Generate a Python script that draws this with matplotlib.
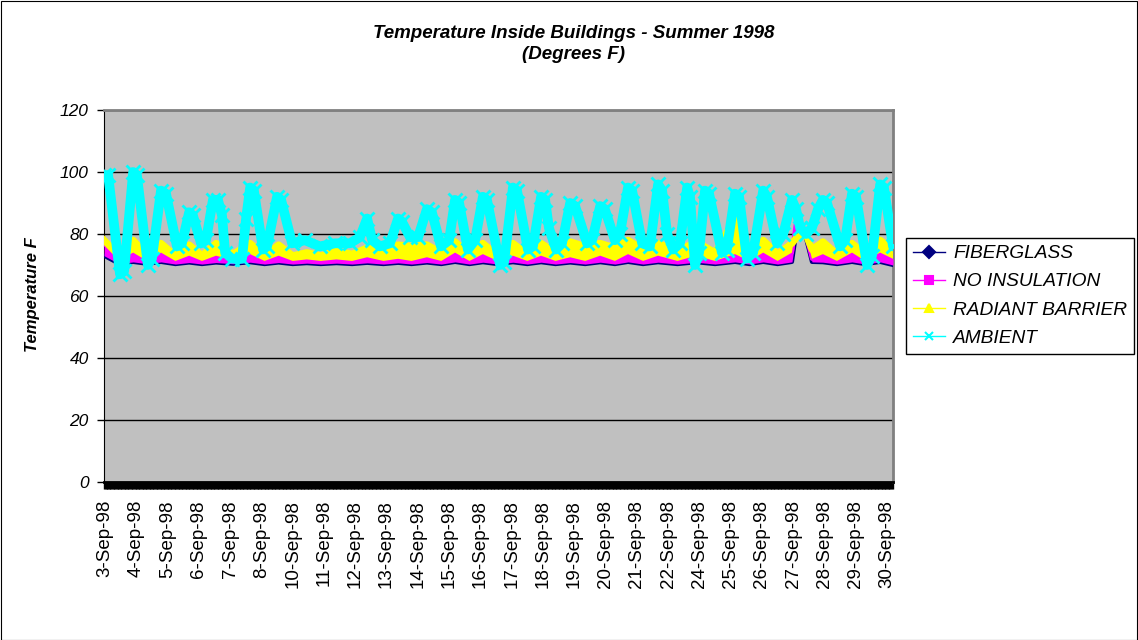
import matplotlib.pyplot as plt
from matplotlib.lines import Line2D
from matplotlib.patches import Rectangle
from matplotlib.ticker import MultipleLocator

plt.rcParams['font.family'] = ['Liberation Sans', 'DejaVu Sans']

# category labels (one every N readings)
date_labels = ['3-Sep-98', '4-Sep-98', '5-Sep-98', '6-Sep-98', '7-Sep-98', '8-Sep-98',
               '10-Sep-98', '11-Sep-98', '12-Sep-98', '13-Sep-98', '14-Sep-98', '15-Sep-98',
               '16-Sep-98', '17-Sep-98', '18-Sep-98', '19-Sep-98', '20-Sep-98', '21-Sep-98',
               '22-Sep-98', '24-Sep-98', '25-Sep-98', '26-Sep-98', '27-Sep-98', '28-Sep-98',
               '29-Sep-98', '30-Sep-98']

# ambient readings (position in label units, deg F)
amb_t = [-0.03, 0.10, 0.48, 0.61, 0.90, 1.02, 1.37, 1.50, 1.79, 1.95,
         2.30, 2.46, 2.69, 2.81, 3.07, 3.23, 3.45, 3.61, 3.74, 3.84,
         4.06, 4.38, 4.51, 4.64, 4.76, 5.05, 5.18, 5.50, 5.63, 5.98,
         6.39, 6.87, 7.35, 7.83, 8.15, 8.38, 8.54, 8.79, 9.11, 9.37,
         9.49, 9.75, 10.01, 10.29, 10.45, 10.74, 11.00, 11.19, 11.32, 11.60,
         11.83, 12.08, 12.21, 12.63, 12.76, 13.04, 13.17, 13.52, 13.68, 13.94,
         14.07, 14.19, 14.42, 14.61, 14.87, 15.03, 15.41, 15.57, 15.83, 15.98,
         16.30, 16.46, 16.72, 16.85, 17.17, 17.42, 17.68, 17.81, 17.97, 18.16,
         18.38, 18.61, 18.70, 18.86, 18.99, 19.18, 19.31, 19.72, 19.88, 20.14,
         20.27, 20.52, 20.72, 21.04, 21.16, 21.48, 21.68, 21.96, 22.09, 22.22,
         22.41, 22.60, 22.79, 22.95, 23.08, 23.50, 23.66, 23.88, 24.01, 24.36,
         24.52, 24.78, 24.90, 25.19]
amb_v = [99, 99, 67, 68, 100, 99, 70, 72, 94, 93,
         76, 77, 87, 86, 77, 78, 91, 91, 86, 74,
         72, 72, 85, 95, 94, 75, 76, 92, 91, 77,
         78, 76, 77, 77, 79, 85, 78, 76, 77, 85,
         84, 79, 79, 88, 87, 76, 78, 91, 90, 75,
         78, 92, 91, 70, 71, 95, 94, 75, 76, 92,
         91, 82, 75, 77, 90, 89, 77, 78, 89, 88,
         78, 80, 95, 94, 77, 76, 96, 94, 80, 75,
         77, 95, 92, 70, 74, 94, 93, 74, 75, 93,
         92, 72, 74, 94, 92, 77, 80, 91, 88, 82,
         80, 82, 88, 91, 90, 76, 78, 93, 92, 70,
         73, 96, 95, 76]

# indoor readings (daily highs / lows)
in_t = [-0.03, 0.45, 0.90, 1.35, 1.79, 2.25, 2.69, 3.10, 3.55, 4.10,
        4.64, 5.10, 5.55, 6.00, 6.45, 6.90, 7.40, 7.90, 8.38, 8.90,
        9.37, 9.80, 10.29, 10.75, 11.19, 11.65, 12.08, 12.55, 13.04, 13.50,
        13.94, 14.40, 14.87, 15.35, 15.83, 16.30, 16.72, 17.20, 17.68, 18.30,
        18.90, 19.50, 20.14, 20.60, 21.04, 21.50, 21.96, 22.12, 22.40, 22.60,
        22.95, 23.40, 23.88, 24.30, 24.78, 25.19]
fiberglass = [73, 70.4, 71, 70.4, 71, 70.3, 70.8, 70.3, 70.8, 70.4,
              70.9, 70.3, 70.8, 70.3, 70.6, 70.3, 70.6, 70.3, 70.7, 70.3,
              70.7, 70.3, 70.8, 70.3, 71, 70.3, 70.9, 70.3, 70.9, 70.3,
              70.9, 70.3, 70.8, 70.3, 70.9, 70.3, 71, 70.3, 70.9, 70.3,
              70.9, 70.3, 71, 70.3, 71, 70.3, 71, 82, 79, 71,
              70.9, 70.3, 71, 70.3, 71, 70]
no_insulation = [77, 71.5, 74, 71.3, 74, 71.3, 73, 71.3, 73, 71.5,
                 73.5, 71.3, 73, 71.3, 71.8, 71.3, 71.8, 71.3, 72.5, 71.3,
                 72, 71.3, 72.5, 71.3, 74, 71.3, 73.5, 71.3, 73, 71.3,
                 73, 71.3, 72.5, 71.3, 73, 71.3, 73.5, 71.3, 73, 71.3,
                 73, 71.3, 73.5, 71.3, 74, 71.3, 74, 86, 80, 72,
                 73.5, 71.3, 74, 71.3, 74, 72]
radiant_barrier = [78, 73, 78, 73, 77, 73, 76.5, 73, 77, 73.5,
                   77, 73, 76.5, 73, 74, 73, 74.5, 73.5, 75.5, 74.5,
                   76.5, 76, 76.5, 74, 77.5, 73.5, 77, 73, 77, 73.5,
                   77, 74, 77.5, 76, 77, 75.5, 78, 75, 77, 74.5,
                   77.5, 74, 85, 73.5, 78, 73.5, 77, 79, 80, 75,
                   77.5, 73.5, 77, 73.5, 78, 75]

series_names = ['FIBERGLASS', 'NO INSULATION', 'RADIANT BARRIER', 'AMBIENT']
colors = ['#000080', '#FF00FF', '#FFFF00', '#00FFFF']
markers = ['D', 's', '^', 'x']

W, H = 1138, 640
fig = plt.figure(figsize=(W / 100, H / 100), dpi=100)
ax = fig.add_axes([104 / W, 1 - 482 / H, (893 - 104) / W, (482 - 110) / H])
ax.set_facecolor('#C0C0C0')

ax.plot(in_t, fiberglass, color=colors[0], lw=3, zorder=3, solid_joinstyle='round')
ax.fill_between(in_t, fiberglass, no_insulation, where=[m >= f for m, f in zip(no_insulation, fiberglass)],
                interpolate=True, color=colors[1], lw=0, zorder=4)
ax.plot(in_t, no_insulation, color=colors[1], lw=3, zorder=4, solid_joinstyle='round')
ax.fill_between(in_t, no_insulation, radiant_barrier, where=[r >= m for r, m in zip(radiant_barrier, no_insulation)],
                interpolate=True, color=colors[2], lw=0, zorder=5)
ax.plot(in_t, radiant_barrier, color=colors[2], lw=5, zorder=5, solid_joinstyle='round')
ax.plot(amb_t, amb_v, color=colors[3], lw=7, marker='x', ms=10, mew=2, zorder=6,
        solid_joinstyle='round', solid_capstyle='round')

ax.set_xlim(-0.032, 25.19)
ax.set_ylim(0, 120)
ax.set_yticks(range(0, 121, 20))
ax.set_xticks(range(len(date_labels)))
ax.set_xticklabels(date_labels, rotation=90, fontsize=13.5)
# dense category tick marks form the solid band under the axis
ax.xaxis.set_minor_locator(MultipleLocator(0.025))
ax.tick_params(axis='x', which='both', direction='out', length=5, width=1.0, color='black', pad=8)
ax.tick_params(axis='y', direction='out', length=5, width=1, pad=6)
for lab in ax.get_yticklabels():
    lab.set_fontsize(12.5)
    lab.set_fontstyle('italic')

ax.yaxis.grid(True, color='black', lw=1)
ax.set_axisbelow(True)
for side in ['top', 'right']:
    ax.spines[side].set_color('#808080')
    ax.spines[side].set_linewidth(2)
ax.spines['left'].set_color('black')
ax.spines['bottom'].set_color('black')
ax.spines['bottom'].set_linewidth(2)

fig.text(574 / W, 1 - 44 / H, 'Temperature Inside Buildings - Summer 1998\n(Degrees F)',
         ha='center', va='center', fontsize=13.5, fontweight='bold', fontstyle='italic',
         linespacing=1.35)
fig.text(33 / W, 1 - 295 / H, 'Temperature F', rotation=90, ha='center', va='center',
         fontsize=12, fontweight='bold', fontstyle='italic')

handles = [Line2D([], [], color=c, marker=m, lw=1, ms=6, mew=1.5) for c, m in zip(colors, markers)]
leg = fig.legend(handles, series_names, loc='upper left', bbox_to_anchor=(906 / W, 1 - 238 / H),
                 frameon=True, fancybox=False, edgecolor='black', framealpha=1, borderaxespad=0,
                 prop={'size': 13.8, 'style': 'italic'}, handlelength=1.7, handletextpad=0.4,
                 labelspacing=0.56, borderpad=0.36)
leg.get_frame().set_linewidth(1)

fig.patches.append(Rectangle((0.5 / W, 0.5 / H), 1 - 1.5 / W, 1 - 1.5 / H, transform=fig.transFigure,
                             fill=False, edgecolor='black', lw=0.8))

fig.savefig('out.png', dpi=100)
